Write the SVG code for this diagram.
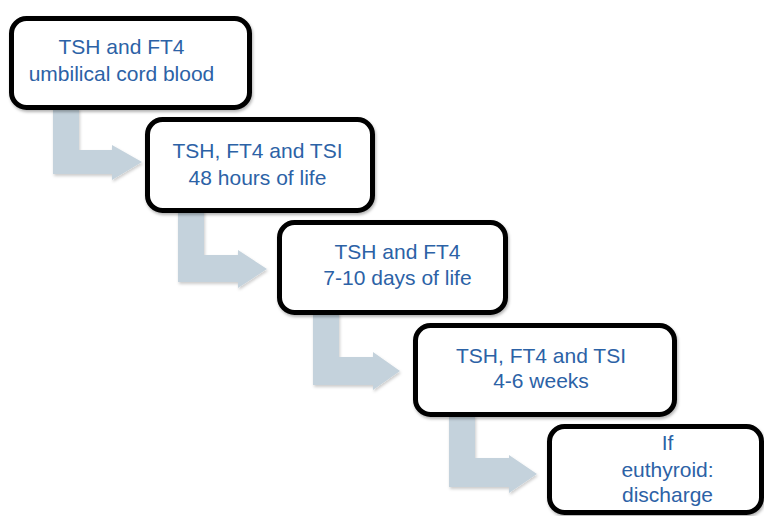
<svg xmlns="http://www.w3.org/2000/svg" width="764" height="516" viewBox="0 0 764 516">
<style>
.box{fill:#ffffff;stroke:#000000;stroke-width:5;filter:url(#sh)}
.arr{fill:#c4d2dc;filter:url(#ash)}
.t{font-family:"Liberation Sans",Arial,sans-serif;font-size:21px;fill:#2c62a6;text-anchor:middle}
</style>
<defs>
<filter id="sh" x="-10%" y="-10%" width="120%" height="130%">
<feDropShadow dx="1" dy="2" stdDeviation="1.5" flood-color="#000" flood-opacity="0.3"/>
</filter>
<filter id="ash" x="-10%" y="-10%" width="130%" height="130%">
<feDropShadow dx="1" dy="2" stdDeviation="1.5" flood-color="#000" flood-opacity="0.2"/>
</filter>
</defs>
<rect width="764" height="516" fill="#ffffff"/>
<g id="connectors">
<path class="arr" d="M53,108 V174 H112 V180 L142,162 L112,145 V150 H79 V108 Z"/>
<path class="arr" d="M178,210 V282 H238 V288 L267,269 L238,250 V255 H204 V210 Z"/>
<path class="arr" d="M313,313 V385 H373 V390 L400,371 L373,352 V357 H339 V313 Z"/>
<path class="arr" d="M449,415 V487 H509 V493 L537,474 L509,455 V458 H475 V415 Z"/>
</g>
<g id="node1">
<rect class="box" x="11.5" y="18.5" width="238" height="89" rx="15"/>
<text class="t" x="121.5" y="54">TSH and FT4</text>
<text class="t" x="121.5" y="81">umbilical cord blood</text>
</g>
<g id="node2">
<rect class="box" x="147.5" y="119.5" width="225" height="91" rx="15"/>
<text class="t" x="257.5" y="158">TSH, FT4 and TSI</text>
<text class="t" x="257.5" y="185">48 hours of life</text>
</g>
<g id="node3">
<rect class="box" x="279.5" y="222.5" width="226" height="90" rx="15"/>
<text class="t" x="397.5" y="259">TSH and FT4</text>
<text class="t" x="397.5" y="285">7-10 days of life</text>
</g>
<g id="node4">
<rect class="box" x="415.5" y="325.5" width="259" height="89" rx="15"/>
<text class="t" x="541" y="363">TSH, FT4 and TSI</text>
<text class="t" x="541" y="388">4-6 weeks</text>
</g>
<g id="node5">
<rect class="box" x="549.5" y="426.5" width="212" height="86" rx="15"/>
<text class="t" x="667.5" y="450">If</text>
<text class="t" x="667.5" y="477">euthyroid:</text>
<text class="t" x="667.5" y="502">discharge</text>
</g>
</svg>
